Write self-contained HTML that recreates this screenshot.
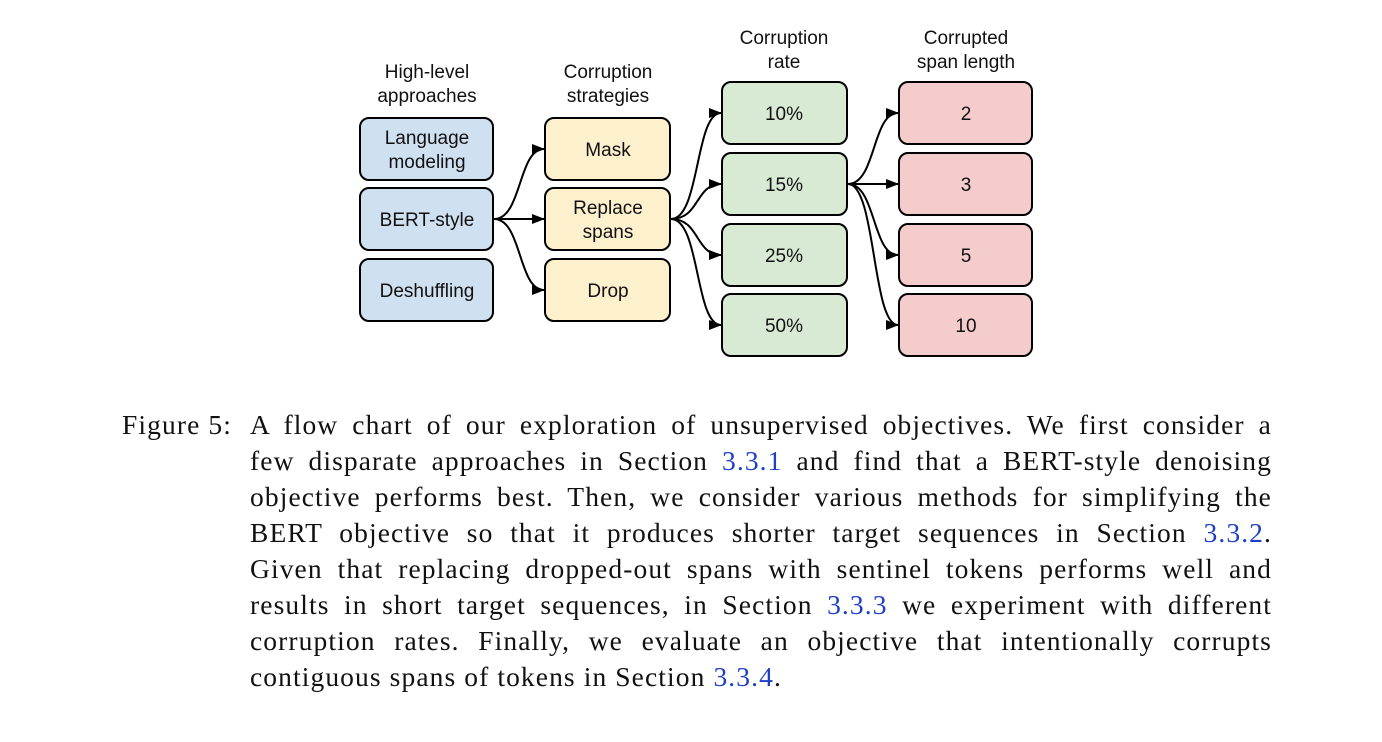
<!DOCTYPE html>
<html><head><meta charset="utf-8"><style>
body{margin:0;width:1382px;height:742px;background:#fff;position:relative;overflow:hidden}
.cap{position:absolute;left:250px;width:1022px;font-family:"Liberation Serif",serif;font-size:27.5px;letter-spacing:1.1px;color:#111;text-align:justify;text-align-last:justify;white-space:nowrap;line-height:30px}
.cap.last{text-align-last:left}
.b{color:#1f3fc8}
</style></head><body>
<svg width="1382" height="380" style="position:absolute;left:0;top:0" font-family="Liberation Sans, sans-serif">
<defs><marker id="a" markerWidth="13" markerHeight="10" refX="12" refY="5" orient="auto" markerUnits="userSpaceOnUse"><path d="M0,0 L13,5 L0,10 Z" fill="#000"/></marker></defs>
<g font-size="19" text-anchor="middle" fill="#111">
<text x="427" y="78">High-level</text><text x="427" y="102">approaches</text>
<text x="608" y="78">Corruption</text><text x="608" y="102">strategies</text>
<text x="784" y="44">Corruption</text><text x="784" y="68">rate</text>
<text x="966" y="44">Corrupted</text><text x="966" y="68">span length</text>
</g>
<g stroke="#000" stroke-width="2">
<rect x="360" y="118" width="133" height="62" rx="9" fill="#cfe0f1"/>
<rect x="360" y="188" width="133" height="62" rx="9" fill="#cfe0f1"/>
<rect x="360" y="259" width="133" height="62" rx="9" fill="#cfe0f1"/>
<rect x="545" y="118" width="125" height="62" rx="9" fill="#fdf0cd"/>
<rect x="545" y="188" width="125" height="62" rx="9" fill="#fdf0cd"/>
<rect x="545" y="259" width="125" height="62" rx="9" fill="#fdf0cd"/>
<rect x="722" y="82" width="125" height="62" rx="9" fill="#d8ead3"/>
<rect x="722" y="153" width="125" height="62" rx="9" fill="#d8ead3"/>
<rect x="722" y="224" width="125" height="62" rx="9" fill="#d8ead3"/>
<rect x="722" y="294" width="125" height="62" rx="9" fill="#d8ead3"/>
<rect x="899" y="82" width="133" height="62" rx="9" fill="#f4cccc"/>
<rect x="899" y="153" width="133" height="62" rx="9" fill="#f4cccc"/>
<rect x="899" y="224" width="133" height="62" rx="9" fill="#f4cccc"/>
<rect x="899" y="294" width="133" height="62" rx="9" fill="#f4cccc"/>
</g>
<g font-size="19" text-anchor="middle" fill="#111">
<text x="427" y="144">Language</text><text x="427" y="168">modeling</text>
<text x="427" y="226">BERT-style</text>
<text x="427" y="297">Deshuffling</text>
<text x="608" y="156">Mask</text>
<text x="608" y="214">Replace</text><text x="608" y="238">spans</text>
<text x="608" y="297">Drop</text>
<text x="784" y="120">10%</text><text x="784" y="191">15%</text><text x="784" y="262">25%</text><text x="784" y="332">50%</text>
<text x="966" y="120">2</text><text x="966" y="191">3</text><text x="966" y="262">5</text><text x="966" y="332">10</text>
</g>
<g stroke="#000" stroke-width="2" fill="none" marker-end="url(#a)">
<path d="M494,219 C522,219 518,149 544,149"/>
<path d="M494,219 L544,219"/>
<path d="M494,219 C522,219 518,290 544,290"/>
<path d="M671,219 C700,219 695,113 721,113"/>
<path d="M671,219 C700,219 695,184 721,184"/>
<path d="M671,219 C700,219 695,255 721,255"/>
<path d="M671,219 C700,219 695,325 721,325"/>
<path d="M848,184 C876,184 872,113 898,113"/>
<path d="M848,184 L898,184"/>
<path d="M848,184 C876,184 872,255 898,255"/>
<path d="M848,184 C876,184 872,325 898,325"/>
</g>
</svg>
<div style="position:absolute;left:122px;top:410px;font-family:'Liberation Serif',serif;font-size:27.5px;letter-spacing:1.1px;line-height:30px;color:#111">Figure 5:</div>
<div class="cap" style="top:410px">A flow chart of our exploration of unsupervised objectives. We first consider a</div>
<div class="cap" style="top:446px">few disparate approaches in Section <span class="b">3.3.1</span> and find that a BERT-style denoising</div>
<div class="cap" style="top:482px">objective performs best. Then, we consider various methods for simplifying the</div>
<div class="cap" style="top:518px">BERT objective so that it produces shorter target sequences in Section <span class="b">3.3.2</span>.</div>
<div class="cap" style="top:554px">Given that replacing dropped-out spans with sentinel tokens performs well and</div>
<div class="cap" style="top:590px">results in short target sequences, in Section <span class="b">3.3.3</span> we experiment with different</div>
<div class="cap" style="top:626px">corruption rates. Finally, we evaluate an objective that intentionally corrupts</div>
<div class="cap last" style="top:662px">contiguous spans of tokens in Section <span class="b">3.3.4</span>.</div>
</body></html>
